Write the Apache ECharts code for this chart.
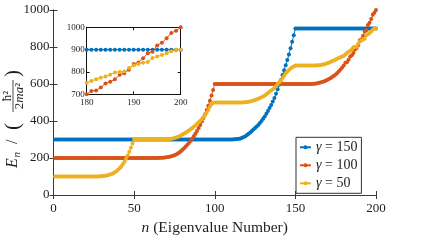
<!DOCTYPE html>
<html><head><meta charset="utf-8">
<script src="https://cdn.jsdelivr.net/npm/echarts@6/dist/echarts.min.js"></script>
<style>html,body{margin:0;padding:0;background:#fff}#c{width:424px;height:241px}</style>
</head><body><div id="c"></div>
<script>
// ---- data ----
const seriesNames = ['γ = 150', 'γ = 100', 'γ = 50'];
const xTickValues = [0, 50, 100, 150, 200];
const yTickValues = [0, 200, 400, 600, 800, 1000];
const insetXTicks = [180, 190, 200];
const insetYTicks = [700, 800, 900, 1000];

const gamma150 = [
  300,300,300,300,300,300,300,300,300,300,
  300,300,300,300,300,300,300,300,300,300,
  300,300,300,300,300,300,300,300,300,300,
  300,300,300,300,300,300,300,300,300,300,
  300,300,300,300,300,300,300,300,300,300,
  300,300,300,300,300,300,300,300,300,300,
  300,300,300,300,300,300,300,300,300,300,
  300,300,300,300,300,300,300,300,300,300,
  300,300,300,300,300,300,300,300,300,300,
  300,300,300,300,300,300,300,300,300,300,
  300,300,300,300,300,300,300,300,300,300,
  300,301,302,303,304,306,309,313,318,324,
  331,338,346,354,362,370,379,389,400,412,
  425,439,454,470,487,505,525,547,571,596,
  622,648,675,702,730,760,793,828,864,900,
  900,900,900,900,900,900,900,900,900,900,
  900,900,900,900,900,900,900,900,900,900,
  900,900,900,900,900,900,900,900,900,900,
  900,900,900,900,900,900,900,900,900,900,
  900,900,900,900,900,900,900,900,900,900
];
const gamma100 = [
  200,200,200,200,200,200,200,200,200,200,
  200,200,200,200,200,200,200,200,200,200,
  200,200,200,200,200,200,200,200,200,200,
  200,200,200,200,200,200,200,200,200,200,
  200,200,200,200,200,200,200,200,200,200,
  200,200,200,200,200,200,200,200,200,200,
  200,200,200,200,200,201,201,202,203,204,
  205,207,209,212,215,219,224,230,237,245,
  253,262,271,281,292,304,317,331,346,362,
  379,397,416,437,459,483,509,538,568,600,
  600,600,600,600,600,600,600,600,600,600,
  600,600,600,600,600,600,600,600,600,600,
  600,600,600,600,600,600,600,600,600,600,
  600,600,600,600,600,600,600,600,600,600,
  600,600,600,600,600,600,600,600,600,600,
  600,600,600,600,600,600,600,600,600,600,
  601,602,603,605,607,609,612,615,619,623,
  628,633,639,645,652,660,669,678,689,700,
  715,717,731,748,756,767,787,794,810,836,
  842,861,884,891,919,931,951,974,985,1000
];
const gamma50 = [
  100,100,100,100,100,100,100,100,100,100,
  100,100,100,100,100,100,100,100,100,100,
  100,100,100,100,100,100,100,100,101,102,
  103,104,106,108,111,114,118,123,129,136,
  144,154,166,180,196,214,234,256,279,300,
  300,300,300,300,300,300,300,300,300,300,
  300,300,300,300,300,300,300,300,301,301,
  302,303,304,306,308,311,314,318,322,327,
  332,337,343,349,355,362,369,377,385,393,
  402,411,421,432,445,460,477,490,498,500,
  500,500,500,500,500,500,500,500,500,500,
  500,500,500,500,500,500,500,501,502,503,
  504,506,508,511,514,517,520,524,528,533,
  538,544,551,558,565,571,578,588,600,610,
  620,632,645,658,668,676,684,690,695,700,
  700,700,700,700,700,700,700,700,700,700,
  700,700,700,701,702,703,705,707,710,713,
  716,720,724,728,732,736,740,744,748,752,
  760,767,774,780,788,798,800,802,818,830,
  836,841,845,863,869,876,884,893,900,900
];
const eigenIndex = gamma150.map((_, i) => i + 1);

// ---- styling ----
const FONT = '"Liberation Serif", "Times New Roman", serif';
const AX = '#3a3a3a';
const TXT = '#1e1e1e';
const colors = ['#0072BD', '#D95319', '#EDB120'];
const valuesList = [gamma150, gamma100, gamma50];

const pairs = arr => arr.map((v, i) => [eigenIndex[i], v]);
const plain = v => String(v);

function mkSeries(idx, xi, yi, z) {
  const c = colors[idx];
  return {
    name: seriesNames[idx], type: 'line', data: pairs(valuesList[idx]),
    xAxisIndex: xi, yAxisIndex: yi, symbol: 'circle', symbolSize: 4,
    showSymbol: true, showAllSymbol: true,
    lineStyle: { color: c, width: 1 }, itemStyle: { color: c },
    emphasis: { disabled: true }, z: z, clip: true, animation: false
  };
}

function axisCommon(extra) {
  return Object.assign({
    type: 'value',
    axisLine: { show: true, lineStyle: { color: AX, width: 1 } },
    axisTick: { show: true, inside: true, length: 4, lineStyle: { color: AX, width: 1 } },
    splitLine: { show: false }
  }, extra);
}

const labelMain = { fontFamily: FONT, fontSize: 13, color: TXT, formatter: plain };
const labelInset = { fontFamily: FONT, fontSize: 9, color: TXT, formatter: plain };
const insetTick = { show: true, inside: true, length: 3, lineStyle: { color: '#111' } };
const insetLine = { show: true, lineStyle: { color: '#111', width: 1 } };

const option = {
  animation: false,
  backgroundColor: '#ffffff',
  grid: [
    { left: 53.5, top: 10, width: 322.5, height: 194, containLabel: false },
    { left: 86.7, top: 27.3, width: 94, height: 67, show: true, backgroundColor: '#ffffff', borderWidth: 0, z: 5 }
  ],
  xAxis: [
    axisCommon({ gridIndex: 0, min: xTickValues[0], max: xTickValues[4], interval: 50, position: 'bottom',
      axisLabel: Object.assign({ margin: 7 }, labelMain),
      name: '{i|n} (Eigenvalue Number)', nameLocation: 'middle', nameGap: 25,
      nameTextStyle: { fontFamily: FONT, fontSize: 15.5, color: TXT,
        rich: { i: { fontFamily: FONT, fontSize: 15.5, fontStyle: 'italic', color: TXT } } } }),
    axisCommon({ gridIndex: 0, min: 0, max: 200, interval: 50, position: 'top', axisLabel: { show: false } }),
    axisCommon({ gridIndex: 1, min: insetXTicks[0], max: insetXTicks[2], interval: 10, position: 'bottom', z: 6,
      axisTick: insetTick, axisLine: insetLine,
      axisLabel: Object.assign({ margin: 4 }, labelInset) }),
    axisCommon({ gridIndex: 1, min: 180, max: 200, interval: 10, position: 'top', z: 6,
      axisTick: insetTick, axisLine: insetLine, axisLabel: { show: false } })
  ],
  yAxis: [
    axisCommon({ gridIndex: 0, min: yTickValues[0], max: yTickValues[5], interval: 200, position: 'left',
      axisLabel: Object.assign({ margin: 4 }, labelMain) }),
    axisCommon({ gridIndex: 0, min: 0, max: 1000, interval: 200, position: 'right', axisLabel: { show: false } }),
    axisCommon({ gridIndex: 1, min: insetYTicks[0], max: insetYTicks[3], interval: 100, position: 'left', z: 6,
      axisTick: insetTick, axisLine: insetLine,
      axisLabel: Object.assign({ margin: 2 }, labelInset) }),
    axisCommon({ gridIndex: 1, min: 700, max: 1000, interval: 100, position: 'right', z: 6,
      axisTick: insetTick, axisLine: insetLine, axisLabel: { show: false } })
  ],
  legend: {
    data: seriesNames, orient: 'vertical', left: 296, top: 137.3,
    padding: [3, 4, 3, 3], itemGap: 4, itemWidth: 11, itemHeight: 5,
    backgroundColor: '#ffffff', borderColor: '#333', borderWidth: 1, borderRadius: 0,
    selectedMode: false,
    textStyle: { fontFamily: FONT, fontSize: 14, color: TXT, lineHeight: 14,
      rich: { g: { fontFamily: FONT, fontSize: 14, fontStyle: 'italic', color: TXT, lineHeight: 14 } } },
    formatter: name => '{g|γ}' + name.slice(1)
  },
  graphic: [{
    type: 'group', x: 13, y: 116, rotation: Math.PI / 2, z: 10,
    children: [
      { type: 'text', x: -52, y: 0, style: { text: 'E', font: 'italic 16px "Liberation Serif"', fill: TXT, verticalAlign: 'middle', align: 'left' } },
      { type: 'text', x: -41.5, y: 4, style: { text: 'n', font: 'italic 11px "Liberation Serif"', fill: TXT, verticalAlign: 'middle', align: 'left' } },
      { type: 'text', x: -28, y: 0, style: { text: '/', font: '16px "Liberation Serif"', fill: TXT, verticalAlign: 'middle', align: 'left' } },
      { type: 'text', x: -14, y: 0, style: { text: '(', font: '21px "Liberation Serif"', fill: TXT, verticalAlign: 'middle', align: 'left' } },
      { type: 'text', x: 20, y: -5.5, style: { text: 'ħ²', font: '13px "Liberation Serif"', fill: TXT, verticalAlign: 'middle', align: 'center' } },
      { type: 'line', shape: { x1: 4, y1: 0, x2: 36, y2: 0 }, style: { stroke: TXT, lineWidth: 0.8 } },
      { type: 'text', x: 20, y: 6.5, style: { text: '2{i|ma}²', font: '13px "Liberation Serif"', fill: TXT, verticalAlign: 'middle', align: 'center',
          rich: { i: { font: 'italic 13px "Liberation Serif"', fill: TXT } } } },
      { type: 'text', x: 39, y: 0, style: { text: ')', font: '21px "Liberation Serif"', fill: TXT, verticalAlign: 'middle', align: 'left' } }
    ]
  }],
  series: [
    mkSeries(0, 0, 0, 2), mkSeries(1, 0, 0, 2), mkSeries(2, 0, 0, 2),
    mkSeries(0, 2, 2, 7), mkSeries(1, 2, 2, 7), mkSeries(2, 2, 2, 7)
  ]
};

const chart = echarts.init(document.getElementById('c'), null, { renderer: 'canvas' });
chart.setOption(option);
</script>
</body></html>
